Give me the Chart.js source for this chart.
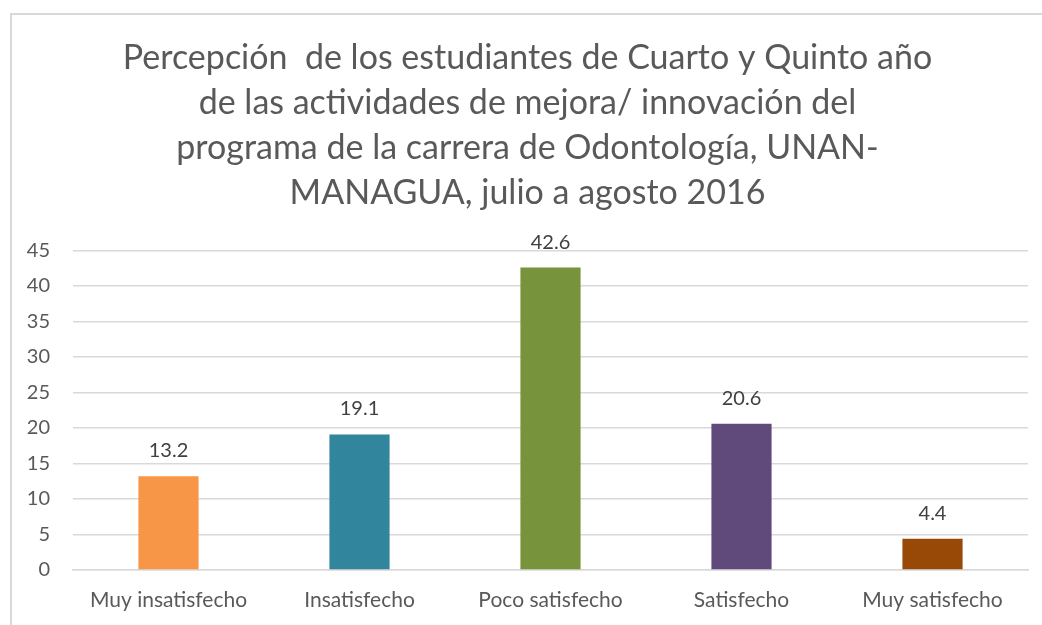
<!DOCTYPE html>
<html>
<head>
<meta charset="utf-8">
<script src="https://cdn.jsdelivr.net/npm/chart.js@4"></script>
<style>
  html, body { margin: 0; padding: 0; background: #fff; }
  #wrap { position: relative; width: 1042px; height: 625px; overflow: hidden; }
  #frame {
    position: absolute; left: 10px; top: 13px; width: 1100px; height: 700px;
    border-left: 2px solid #d9d9d9; border-top: 2px solid #d9d9d9;
  }
  canvas { position: absolute; left: 0; top: 0; }
</style>
</head>
<body>
<div id="wrap">
  <div id="frame"></div>
  <canvas id="myChart" width="1042" height="625"></canvas>
</div>
<script>
"use strict";

const categories = [`Muy insatisfecho`, `Insatisfecho`, `Poco satisfecho`, `Satisfecho`, `Muy satisfecho`];
const values = [13.2, 19.1, 42.6, 20.6, 4.4];
const barColors = [`#F79646`, `#31859C`, `#77933C`, `#604A7B`, `#984807`];
const titleLines = [
  `Percepción  de los estudiantes de Cuarto y Quinto año`,
  `de las actividades de mejora/ innovación del`,
  `programa de la carrera de Odontología, UNAN-`,
  `MANAGUA, julio a agosto 2016`
];

const fontFamily = `Lato, "Open Sans", sans-serif`;

// draws the value above every bar
const valueLabels = {
  id: `valueLabels`,
  afterDatasetsDraw(chart) {
    const ctx = chart.ctx;
    ctx.save();
    ctx.font = `20px ${fontFamily}`;
    ctx.fillStyle = `#404040`;
    ctx.textAlign = `center`;
    ctx.textBaseline = `alphabetic`;
    chart.getDatasetMeta(0).data.forEach((bar, i) => {
      ctx.fillText(values[i].toFixed(1), bar.x, bar.y - 19);
    });
    ctx.restore();
  }
};

const chartCanvas = document.getElementById(`myChart`).getContext(`2d`);
const chart = new Chart(chartCanvas, {
  type: `bar`,
  data: {
    labels: categories,
    datasets: [
      {
        data: values,
        backgroundColor: barColors,
        categoryPercentage: 1,
        barPercentage: 0.315
      }
    ]
  },
  options: {
    responsive: false,
    animation: false,
    layout: { padding: { left: 27, right: 14, top: 36, bottom: 12 } },
    plugins: {
      legend: { display: false },
      tooltip: { enabled: false },
      title: {
        display: true,
        text: titleLines,
        color: `#595959`,
        font: { family: fontFamily, size: 34, weight: `normal`, lineHeight: 1.32 },
        padding: { top: 0, bottom: 35 }
      }
    },
    scales: {
      x: {
        grid: { display: false, drawTicks: false },
        border: { display: true, color: `#d9d9d9`, width: 1.5 },
        ticks: {
          color: `#595959`,
          font: { family: fontFamily, size: 21 },
          padding: 18,
          maxRotation: 0
        },
        // labels may run past the plot edges, as in the original
        afterFit: (scale) => {
          scale.paddingLeft = 0;
          scale.paddingRight = 0;
          scale.height = 43;
        }
      },
      y: {
        min: 0,
        max: 45,
        grid: { color: `#d9d9d9`, lineWidth: 1.5, drawTicks: false },
        border: { display: false },
        ticks: {
          stepSize: 5,
          color: `#595959`,
          font: { family: fontFamily, size: 20 },
          padding: 23
        },
        afterFit: (scale) => {
          scale.width = 46;
        }
      }
    }
  },
  plugins: [valueLabels]
});
</script>
</body>
</html>
